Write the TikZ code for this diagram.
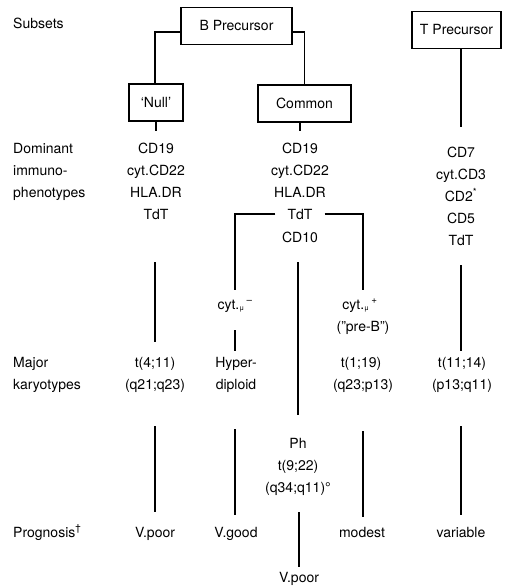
\documentclass[tikz,border=0pt]{standalone}
\usepackage{fontspec}
\setmainfont{TeX Gyre Heros}
\begin{document}
\begin{tikzpicture}[x=1pt,y=-1pt,
  every node/.style={font=\fontsize{14}{16}\selectfont},
  tx/.style={inner sep=0pt, text height=10pt, text depth=0pt, anchor=center},
  lb/.style={tx, anchor=west},
  bx/.style={draw, line width=1.1pt, inner sep=0pt, minimum height=37pt},
  ln/.style={line width=1.1pt},
]
\useasboundingbox (0,0) rectangle (513,586);

% row labels
\node[lb] (lSub)  at (13,24)  {Subsets};
\node[lb] (lDom)  at (13,148) {Dominant};
\node[lb] (lImm)  at (13,170) {immuno-};
\node[lb] (lPhe)  at (13,192) {phenotypes};
\node[lb] (lMaj)  at (13,362) {Major};
\node[lb] (lKar)  at (13,384) {karyotypes};
\node[lb] (lPro)  at (13,532) {Prognosis\textsuperscript{†}};

% subset boxes
\node[bx, minimum width=111pt] (bpre)   at (236.5,26)  {B Precursor};
\node[bx, minimum width=89pt]  (tpre)   at (456.5,30)  {T Precursor};
\node[bx, minimum width=54pt]  (null)   at (156,102.5) {`Null'};
\node[bx, minimum width=93pt]  (common) at (304.5,103.5) {Common};

% 'Null' column
\node[tx] (a1) at (156,148) {CD19};
\node[tx] (a2) at (156,170) {cyt.CD22};
\node[tx] (a3) at (156,192) {HLA.DR};
\node[tx] (a4) at (156,214) {TdT};
\node[tx] (a5) at (155,362) {t(4;11)};
\node[tx] (a6) at (155,384) {(q21;q23)};
\node[tx] (a7) at (155,532) {V.poor};

% Common column
\node[tx] (m1) at (300,148) {CD19};
\node[tx] (m2) at (300,170) {cyt.CD22};
\node[tx] (m3) at (300,192) {HLA.DR};
\node[tx] (m4) at (300,214) {TdT};
\node[tx] (m5) at (300,237) {CD10};
\node[tx] (m6) at (298,443) {Ph};
\node[tx] (m7) at (298,465) {t(9;22)};
\node[tx] (m8) at (298,487) {(q34;q11)°};
\node[tx] (m9) at (299,577) {V.poor};

% cyt.mu negative branch
\node[tx] (b1) at (235,304) {cyt.\raisebox{-1.5pt}{\scriptsize μ}\,\textsuperscript{–}};
\node[tx] (b2) at (236,362) {Hyper-};
\node[tx] (b3) at (236,384) {diploid};
\node[tx] (b4) at (236,532) {V.good};

% cyt.mu positive branch
\node[tx] (c1) at (360,304) {cyt.\raisebox{-1.5pt}{\scriptsize μ}\,\textsuperscript{+}};
\node[tx] (c2) at (363,326) {("pre-B")};
\node[tx] (c3) at (361,362) {t(1;19)};
\node[tx] (c4) at (363,384) {(q23;p13)};
\node[tx] (c5) at (362,532) {modest};

% T column
\node[tx] (t1) at (461,152) {CD7};
\node[tx] (t2) at (461,174) {cyt.CD3};
\node[tx] (t3) at (461,196) {CD2\textsuperscript{*}};
\node[tx] (t4) at (461,218) {CD5};
\node[tx] (t5) at (461,240) {TdT};
\node[tx] (t6) at (462,362) {t(11;14)};
\node[tx] (t7) at (462,384) {(p13;q11)};
\node[tx] (t8) at (461,532) {variable};

% B precursor split
\draw[ln] ([yshift=-6pt]bpre.west) -| ([xshift=-1pt]null.north);
\draw[ln] ([yshift=-6pt]bpre.east) -| (common.north);

% stems under the subset boxes
\draw[ln, shorten >=12pt] (null.south -| a1) -- (a1.north);
\draw[ln, shorten >=12pt] (common.south -| m1) -- (m1.north);
\draw[ln, shorten >=20pt] (tpre.south -| t1) -- (t1.north);

% 'Null' column
\draw[ln, shorten <=43pt, shorten >=15pt] ([xshift=-1pt]a4.south) -- (a5.north);
\draw[ln, shorten <=37pt, shorten >=15pt] (a6.south) -- (a7.north);

% Common: TdT bracket to the cyt.mu branches
\draw[ln, shorten <=12pt, shorten >=9pt] (m4.west) -| (b1.north);
\draw[ln, shorten <=12pt, shorten >=9pt] (m4.east) -| ([xshift=3pt]c1.north);

% Common: CD10 down to Ph
\draw[ln, shorten <=20pt, shorten >=23pt] ([xshift=-2pt]m5.south) -- (m6.north);
\draw[ln, shorten <=20pt, shorten >=5pt] (m8.south -| m9) -- (m9.north);

% cyt.mu negative
\draw[ln, shorten <=21pt, shorten >=6pt] (b1.south) -- (b1.south |- b2.north);
\draw[ln, shorten <=40pt, shorten >=12pt] (b3.south -| b1) -- (b4.north -| b1);

% cyt.mu positive
\draw[ln, shorten <=42pt, shorten >=10pt] (c4.south -| c2) -- (c5.north -| c2);

% T column
\draw[ln, shorten <=20pt, shorten >=6pt] (t5.south) -- (t6.north -| t5);
\draw[ln, shorten <=37pt, shorten >=12pt] (t7.south -| t5) -- (t8.north);
\end{tikzpicture}
\end{document}
